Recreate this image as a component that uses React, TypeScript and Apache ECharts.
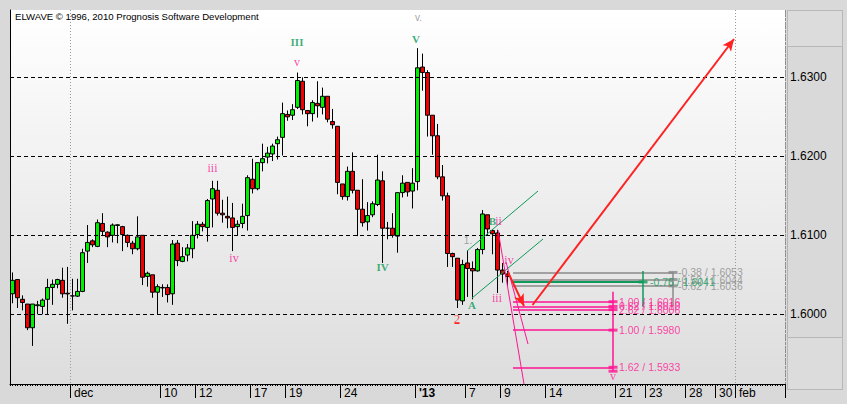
import React, { useEffect, useRef } from 'react';
import * as echarts from 'echarts';

// ---------- axes ----------
const N_SLOTS = 155;
const xTickIdx = [12, 30, 37, 48, 55, 66, 81, 91, 98, 107, 121, 127, 135, 141, 145];
const xTickText = ['dec', '10', '12', '17', '19', '24', "'13", '7', '9', '14', '21', '23', '28', '30', 'feb'];
const xSeparators = [12, 145];
const xYearSeparator = [81];
const yTicks = [1.6, 1.61, 1.62, 1.63];
const Y_MIN = 1.59118;
const Y_MAX = 1.63852;

// ---------- candles (bar index 0..99) ----------
const opens = [
  1.6026, 1.6044, 1.6019, 1.6013, 1.5983, 1.6011, 1.6010, 1.6019, 1.6034, 1.6038,
  1.6043, 1.60267, 1.60233, 1.6023, 1.6029, 1.6080, 1.6093, 1.6086, 1.6115, 1.6104,
  1.6100, 1.61125, 1.6111, 1.6100, 1.6090, 1.6083, 1.6100, 1.6048, 1.6050, 1.6028,
  1.60340, 1.6034, 1.6026, 1.6090, 1.6067, 1.6075, 1.6083, 1.6101, 1.6114, 1.6110,
  1.6146, 1.6157, 1.6128, 1.6124, 1.6122, 1.6111, 1.6115, 1.6125, 1.6171, 1.6159,
  1.6192, 1.6199, 1.6203, 1.6216, 1.6224, 1.6253, 1.6252, 1.6262, 1.6295, 1.6258,
  1.6254, 1.6267, 1.6262, 1.6276, 1.6244, 1.6238, 1.6165, 1.6149, 1.6181, 1.6157,
  1.6133, 1.6117, 1.6126, 1.6139, 1.6169, 1.6109, 1.6109, 1.6099, 1.6154, 1.6167,
  1.6156, 1.6168, 1.6313, 1.6306, 1.6252, 1.6226, 1.6174, 1.6150, 1.6077, 1.6071,
  1.6017, 1.6065, 1.6058, 1.6055, 1.6082, 1.6126, 1.6106, 1.6103, 1.6056, 1.6051,
];
const closes = [
  1.6043, 1.6021, 1.6015, 1.5983, 1.6013, 1.6012, 1.6018, 1.6034, 1.6038, 1.6044,
  1.6026, 1.60258, 1.60233, 1.6029, 1.6078, 1.6091, 1.6088, 1.6116, 1.6105, 1.6098,
  1.6113, 1.61133, 1.6101, 1.6091, 1.6083, 1.6098, 1.6047, 1.6052, 1.6028, 1.6035,
  1.60334, 1.6025, 1.6089, 1.6068, 1.6073, 1.6084, 1.6100, 1.6114, 1.6111, 1.6144,
  1.6159, 1.6128, 1.6126, 1.6122, 1.6110, 1.6114, 1.6124, 1.6173, 1.6159, 1.6192,
  1.6197, 1.6204, 1.6213, 1.6221, 1.6254, 1.6250, 1.6259, 1.6296, 1.6259, 1.6254,
  1.6268, 1.6264, 1.6276, 1.6247, 1.6240, 1.6167, 1.6149, 1.6181, 1.6157, 1.6133,
  1.6116, 1.6125, 1.6140, 1.6170, 1.6109, 1.6109, 1.6100, 1.6154, 1.6166, 1.6155,
  1.6166, 1.6312, 1.6306, 1.6252, 1.6226, 1.6174, 1.6150, 1.6077, 1.6073, 1.6018,
  1.6063, 1.6058, 1.6055, 1.6082, 1.6127, 1.6108, 1.6102, 1.6056, 1.6051, 1.6048,
];
const lows = [
  1.6014, 1.6008, 1.6005, 1.5980, 1.5960, 1.6000, 1.6000, 1.6000, 1.6012, 1.6033,
  1.6021, 1.5988, 1.6005, 1.6022, 1.6028, 1.6065, 1.6085, 1.6085, 1.6099, 1.6085,
  1.6091, 1.6090, 1.6080, 1.6085, 1.6076, 1.6081, 1.6037, 1.6035, 1.6021, 1.6000,
  1.6022, 1.6015, 1.6012, 1.6061, 1.6066, 1.6067, 1.6071, 1.6096, 1.6105, 1.6092,
  1.6110, 1.6125, 1.6116, 1.6109, 1.6080, 1.6100, 1.6109, 1.6106, 1.6153, 1.6157,
  1.6181, 1.6191, 1.6194, 1.6196, 1.6201, 1.6245, 1.6246, 1.6260, 1.6253, 1.6238,
  1.6244, 1.6249, 1.6253, 1.6243, 1.6235, 1.6152, 1.6145, 1.6144, 1.6153, 1.6099,
  1.6111, 1.6106, 1.6123, 1.6137, 1.6065, 1.6095, 1.6097, 1.6078, 1.6148, 1.6149,
  1.6134, 1.6157, 1.6283, 1.6225, 1.6202, 1.6171, 1.6144, 1.6060, 1.6060, 1.6008,
  1.6012, 1.6022, 1.6019, 1.6054, 1.6076, 1.6100, 1.6076, 1.6027, 1.6040, 1.6036,
];
const highs = [
  1.6053, 1.6044, 1.6024, 1.6013, 1.6013, 1.6017, 1.6020, 1.6045, 1.6044, 1.6045,
  1.6059, 1.6060, 1.6045, 1.6045, 1.6083, 1.6113, 1.6095, 1.6120, 1.6128, 1.6105,
  1.6115, 1.6114, 1.6112, 1.6101, 1.6093, 1.6124, 1.6100, 1.6054, 1.6050, 1.6038,
  1.6038, 1.6038, 1.6094, 1.6094, 1.6085, 1.6089, 1.6118, 1.6118, 1.6117, 1.6146,
  1.6169, 1.6169, 1.6145, 1.6149, 1.6141, 1.6119, 1.6140, 1.6176, 1.6197, 1.6192,
  1.6216, 1.6212, 1.6216, 1.6225, 1.6268, 1.6258, 1.6266, 1.6306, 1.6300, 1.6258,
  1.6271, 1.6295, 1.6287, 1.6276, 1.6260, 1.6238, 1.6165, 1.6187, 1.6205, 1.6157,
  1.6171, 1.6142, 1.6143, 1.6202, 1.6181, 1.6117, 1.6128, 1.6154, 1.6176, 1.6167,
  1.6185, 1.6337, 1.6330, 1.6309, 1.6252, 1.6241, 1.6189, 1.6154, 1.6078, 1.6071,
  1.6069, 1.6081, 1.6067, 1.6084, 1.6132, 1.6126, 1.6108, 1.6107, 1.6065, 1.6055,
];

// ---------- annotations (x in bar units, y in price) ----------
const channelLines = [
  [[90.9, 1.60801], [105.1, 1.61561]],
  [[91.9, 1.60206], [106.1, 1.60953]],
];
const pinkTrendLines = [
  [[97.1, 1.61067], [102.3, 1.59118]],
  [[98.7, 1.60662], [103.1, 1.59624]],
];
const arrowLines = [
  [[99.1, 1.60535], [102.3, 1.60105]],
  [[104.0, 1.60118], [144.3, 1.63485]],
];
const fibStartX = 100.1;
const pinkFibX = 120.1;
const pinkFibLevels = [1.6016, 1.6010, 1.6006, 1.5980, 1.5933];
const pinkFibRatios = ['1.00', '0.62', '2.62', '1.00', '1.62'];
const pinkFibSpan = [1.60286, 1.59280];
const grayFibX = 132.1;
const grayFibLevels = [1.6053, 1.6044, 1.6036];
const grayFibRatios = ['-0.38', '-0.50', '-0.62'];
const grayFibSpan = [1.60539, 1.60096];
const greenFibX = 126.1;
const greenFibLevels = [1.6041];
const greenFibRatios = ['-0.76'];
const greenFibSpan = [1.60548, 1.60096];

const pinkWaveLabels = [
  { t: 'iii', x: 40.0, y: 1.61848 },
  { t: 'iv', x: 44.3, y: 1.60716 },
  { t: 'v', x: 56.9, y: 1.63194 },
  { t: 'ii', x: 97.2, y: 1.61181 },
  { t: 'iv', x: 99.3, y: 1.60687 },
  { t: 'iii', x: 96.9, y: 1.60206 },
  { t: 'v', x: 120.1, y: 1.59215 },
];
const greenWaveLabels = [
  { t: 'III', x: 56.9, y: 1.63451 },
  { t: 'IV', x: 74.0, y: 1.60595 },
  { t: 'V', x: 80.7, y: 1.63481 },
  { t: 'A', x: 91.9, y: 1.60118 },
  { t: 'B', x: 96.0, y: 1.61181 },
];
const grayWaveLabels = [
  { t: 'v.', x: 81.2, y: 1.63751 },
  { t: '1.', x: 91.1, y: 1.6094 },
];
const redWaveLabels = [{ t: '2', x: 88.9, y: 1.59953 }];
const redUnderline = [[88.4, 1.59885], [89.4, 1.59885]];

// ---------- styles ----------
const SANS = 'Liberation Sans, Arial, sans-serif';
const SERIF = 'Liberation Serif, DejaVu Serif, serif';
const PINK = '#ff1493';
const GREEN = '#0e9a5a';
const GRAY = '#8a8a8a';
const RED = '#ff2222';

function buildOption(): any {
  const cats = Array.from({ length: N_SLOTS }, (_, i) => 'c' + i);
  const labelAt: Record<number, string> = {};
  xTickIdx.forEach((k, j) => (labelAt[k] = xTickText[j]));
  const isLabeled = (i: number) => labelAt[i] !== undefined;

  const candles = opens.map((o, i) => [o, closes[i], lows[i], highs[i]]);

  const seg = (a: number[], b: number[], style: any) => [
    { coord: a, lineStyle: style },
    { coord: b },
  ];

  const lines: any[] = [];
  channelLines.forEach((l) => lines.push(seg(l[0], l[1], { color: GREEN, width: 1, type: 'solid' })));
  pinkTrendLines.forEach((l) => lines.push(seg(l[0], l[1], { color: PINK, width: 1, type: 'solid' })));
  grayFibLevels.forEach((v) => lines.push(seg([fibStartX, v], [grayFibX, v], { color: GRAY, width: 1.5, type: 'solid' })));
  lines.push(seg([grayFibX, grayFibSpan[0]], [grayFibX, grayFibSpan[1]], { color: GRAY, width: 1.5, type: 'solid' }));
  greenFibLevels.forEach((v) => lines.push(seg([fibStartX, v], [greenFibX, v], { color: GREEN, width: 2, type: 'solid' })));
  lines.push(seg([greenFibX, greenFibSpan[0]], [greenFibX, greenFibSpan[1]], { color: GREEN, width: 1.5, type: 'solid' }));
  pinkFibLevels.forEach((v) => lines.push(seg([fibStartX, v], [pinkFibX, v], { color: PINK, width: 1.6, type: 'solid' })));
  lines.push(seg([pinkFibX, pinkFibSpan[0]], [pinkFibX, pinkFibSpan[1]], { color: PINK, width: 1.5, type: 'solid' }));
  lines.push(seg(redUnderline[0], redUnderline[1], { color: RED, width: 1, type: 'solid' }));

  const arrows = arrowLines.map((l) => seg(l[0], l[1], { color: RED, width: 2, type: 'solid' }));

  const markers: any[] = [];
  pinkFibLevels.forEach((v) => markers.push({ value: [pinkFibX, v], itemStyle: { color: PINK } }));
  markers.push({ value: [pinkFibX, pinkFibSpan[1]], itemStyle: { color: PINK } });
  grayFibLevels.forEach((v) => markers.push({ value: [grayFibX, v], itemStyle: { color: GRAY } }));
  greenFibLevels.forEach((v) => markers.push({ value: [greenFibX, v], itemStyle: { color: GREEN } }));

  const fibTexts: any[] = [];
  const fibText = (x: number, v: number, ratio: string, color: string) => ({
    value: [x, v],
    label: {
      show: true,
      position: 'right',
      distance: 1,
      formatter: ratio + ' / ' + v.toFixed(4),
      color,
      fontSize: 10.5,
      fontFamily: SANS,
    },
  });
  pinkFibLevels.forEach((v, i) => fibTexts.push(fibText(pinkFibX + 1.0, v, pinkFibRatios[i], PINK)));
  grayFibLevels.forEach((v, i) => fibTexts.push(fibText(grayFibX + 0.8, v, grayFibRatios[i], GRAY)));
  greenFibLevels.forEach((v, i) => fibTexts.push(fibText(greenFibX + 1.2, v, greenFibRatios[i], GREEN)));

  const waveText = (l: any, color: string, size: number, family: string, weight: string) => ({
    value: [l.x, l.y],
    label: {
      show: true,
      position: 'inside',
      formatter: l.t,
      color,
      fontSize: size,
      fontFamily: family,
      fontWeight: weight,
      align: 'center',
      verticalAlign: 'middle',
    },
  });
  const waveTexts: any[] = [];
  pinkWaveLabels.forEach((l) => waveTexts.push(waveText(l, PINK, 12, SERIF, 'normal')));
  greenWaveLabels.forEach((l) => waveTexts.push(waveText(l, GREEN, 11, SERIF, 'bold')));
  grayWaveLabels.forEach((l) => waveTexts.push(waveText(l, GRAY, 10, SANS, 'normal')));
  redWaveLabels.forEach((l) => waveTexts.push(waveText(l, RED, 13, SERIF, 'normal')));

  return {
    animation: false,
    backgroundColor: '#d9d9d9',
    textStyle: { fontFamily: SANS },
    title: {
      text: 'ELWAVE \u00a9 1996, 2010 Prognosis Software Development',
      left: 15,
      top: 11,
      padding: 0,
      z: 20,
      textStyle: { fontSize: 9.6, fontWeight: 'normal', color: '#000', fontFamily: SANS },
    },
    grid: {
      left: 10,
      right: 62,
      top: 10,
      bottom: 20,
      show: true,
      borderWidth: 0,
      backgroundColor: new echarts.graphic.LinearGradient(0, 0, 0, 1, [
        { offset: 0, color: '#ffffff' },
        { offset: 1, color: '#dddddd' },
      ]),
    },
    xAxis: [
      {
        type: 'category',
        data: cats,
        boundaryGap: true,
        position: 'bottom',
        axisLine: { show: true, lineStyle: { color: '#000', width: 1 } },
        axisTick: { show: true, interval: 0, length: 2, lineStyle: { color: '#000' } },
        axisLabel: { show: false },
        splitLine: {
          show: true,
          interval: (i: number) => xSeparators.includes(i),
          lineStyle: { color: '#9a9a9a', type: [1, 2], width: 1 },
        },
      },
      {
        type: 'category',
        data: cats,
        boundaryGap: true,
        position: 'bottom',
        axisLine: { show: false },
        axisTick: { show: true, interval: 0, alignWithLabel: true, length: 2, lineStyle: { color: '#000' } },
        axisLabel: { show: false },
        splitLine: { show: false },
      },
      {
        type: 'category',
        data: cats,
        boundaryGap: true,
        position: 'bottom',
        axisLine: { show: false },
        axisTick: {
          show: true,
          interval: (i: number) => isLabeled(i),
          length: 14,
          lineStyle: { color: '#000' },
        },
        axisLabel: {
          show: true,
          interval: (i: number) => isLabeled(i),
          formatter: (_v: string, i: number) => {
            const t = labelAt[i] || '';
            return t === "'13" ? '{b|' + t + '}' : t;
          },
          align: 'left',
          margin: 3,
          padding: [0, 0, 0, 1.5],
          color: '#000',
          fontSize: 12,
          fontFamily: SANS,
          rich: { b: { fontWeight: 'bold', fontSize: 12, color: '#000', fontFamily: SANS } },
        },
        splitLine: {
          show: true,
          interval: (i: number) => xYearSeparator.includes(i),
          lineStyle: { color: '#8e8e8e', type: [3, 1], width: 1 },
        },
      },
      { type: 'value', min: -0.5, max: N_SLOTS - 0.5, show: false },
    ],
    yAxis: [
      {
        type: 'value',
        position: 'right',
        min: Y_MIN,
        max: Y_MAX,
        splitNumber: 5,
        scale: true,
        axisLine: { show: false },
        axisTick: { show: false },
        splitLine: { show: false },
        axisLabel: {
          show: true,
          margin: 5,
          color: '#000',
          fontSize: 12,
          fontFamily: SANS,
          formatter: (v: number) => (yTicks.some((t) => Math.abs(t - v) < 1e-7) ? v.toFixed(4) : ''),
        },
      },
      {
        type: 'value',
        position: 'left',
        min: Y_MIN,
        max: Y_MAX,
        scale: true,
        axisLine: { show: true, lineStyle: { color: '#000', width: 1 } },
        axisTick: { show: false },
        axisLabel: { show: false },
        splitLine: { show: false },
      },
    ],
    graphic: [
      {
        type: 'rect',
        silent: true,
        z: 50,
        shape: { x: 787.5, y: 10.5, width: 55, height: 379 },
        style: { fill: 'none', stroke: '#b3b3b3', lineWidth: 1 },
      },
      {
        type: 'rect',
        silent: true,
        z: 50,
        shape: { x: 787.5, y: 10.5, width: 55, height: 36 },
        style: { fill: '#dcdcdc', stroke: '#b8b8b8', lineWidth: 1 },
      },
      {
        type: 'rect',
        silent: true,
        z: 50,
        shape: { x: 787.5, y: 337.5, width: 55, height: 52 },
        style: { fill: '#dcdcdc', stroke: '#b8b8b8', lineWidth: 1 },
      },
    ],
    series: [
      {
        name: 'grid',
        type: 'line',
        xAxisIndex: 3,
        yAxisIndex: 0,
        data: [],
        z: 1,
        silent: true,
        markLine: {
          silent: true,
          symbol: ['none', 'none'],
          label: { show: false },
          lineStyle: { color: '#000', type: [4, 3], width: 1 },
          data: yTicks.map((v) => ({ yAxis: v })),
        },
      },
      {
        name: 'price',
        type: 'candlestick',
        xAxisIndex: 0,
        yAxisIndex: 0,
        z: 3,
        barWidth: 4,
        data: candles,
        itemStyle: {
          color: '#00f000',
          color0: '#f00000',
          borderColor: '#000',
          borderColor0: '#000',
          borderColorDoji: '#000',
          borderWidth: 1,
        },
      },
      {
        name: 'lines',
        type: 'line',
        xAxisIndex: 3,
        yAxisIndex: 0,
        data: [],
        z: 5,
        silent: true,
        markLine: {
          silent: true,
          symbol: ['none', 'none'],
          label: { show: false },
          data: lines,
        },
      },
      {
        name: 'arrows',
        type: 'line',
        xAxisIndex: 3,
        yAxisIndex: 0,
        data: [],
        z: 6,
        silent: true,
        markLine: {
          silent: true,
          symbol: ['none', 'arrow'],
          symbolSize: [8, 12],
          label: { show: false },
          itemStyle: { color: RED },
          data: arrows,
        },
      },
      {
        name: 'markers',
        type: 'scatter',
        xAxisIndex: 3,
        yAxisIndex: 0,
        z: 7,
        silent: true,
        symbol: 'rect',
        symbolSize: [9, 3],
        data: markers,
      },
      {
        name: 'fibTexts',
        type: 'scatter',
        xAxisIndex: 3,
        yAxisIndex: 0,
        z: 8,
        silent: true,
        symbolSize: 0,
        data: fibTexts,
      },
      {
        name: 'waves',
        type: 'scatter',
        xAxisIndex: 3,
        yAxisIndex: 0,
        z: 8,
        silent: true,
        symbolSize: 0,
        data: waveTexts,
      },
    ],
  };
}

export default function App() {
  const ref = useRef<HTMLDivElement>(null);
  useEffect(() => {
    document.body.style.margin = '0';
    const chart = echarts.init(ref.current!, null, { renderer: 'svg' });
    chart.setOption(buildOption());
    return () => chart.dispose();
  }, []);
  return <div ref={ref} style={{ width: 847, height: 404 }} />;
}
